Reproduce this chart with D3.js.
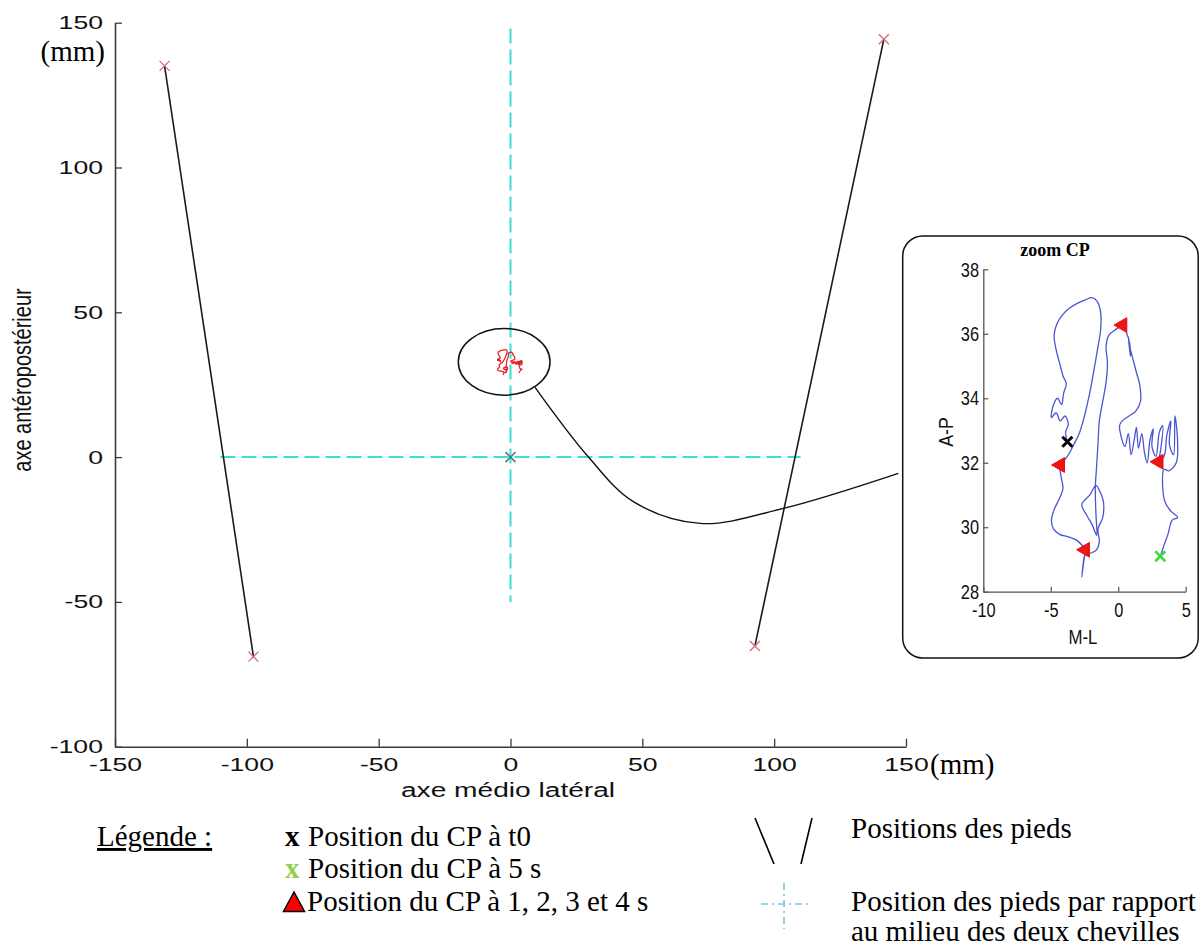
<!DOCTYPE html>
<html><head><meta charset="utf-8">
<script src="https://cdn.jsdelivr.net/npm/d3@7"></script>
<style>body{margin:0;background:#fff}svg{display:block}</style>
</head><body>
<svg id="c" width="1201" height="949"></svg>
<script>
// ---------- data ----------
const mainXTicks = [-150, -100, -50, 0, 50, 100, 150];
const mainYTicks = [-100, -50, 0, 50, 100, 150];
const insetXTicks = [-10, -5, 0, 5];
const insetYTicks = [28, 30, 32, 34, 36, 38];

// feet (medio-lateral, antero-posterior), mm
const leftFootML = [-131.2, -97.5];
const leftFootAP = [135.1, -68.9];
const rightFootML = [141.6, 92.7];
const rightFootAP = [144.3, -65.2];

// reference cross (middle of the two ankles)
const crossHML = [-110, 110];
const crossVAP = [-50, 148];

// CP trajectory (mm)
const cpML = [
-3.77,-3.9,-3.7,-3.95,-4.3,-4.6,-4.95,-4.8,-4.5,-4.2,-4.05,-3.85,-4.1,
-4.35,-4.6,-4.75,-4.55,-4.1,-3.6,-3.0,-2.45,-1.95,-1.55,-1.3,-1.3,
-1.5,-1.75,-2.0,-2.3,-2.6,-2.9,-3.25,-3.55,-3.85,-4.05,-4.3,
-4.25,-4.1,-4.4,-4.75,-4.95,-4.8,-4.35,-3.7,-3.1,-2.7,-2.45,
-2.55,-2.7,-2.6,-2.45,-2.0,-1.6,-1.4,-1.5,-1.15,-1.1,-1.35,-1.65,-2.1,-2.7,-2.3,-1.9,-1.6,
-1.65,-1.7,-1.6,-1.5,-1.4,-1.15,-0.9,-0.8,-0.9,-0.7,-0.3,0.05,0.32,
0.6,0.85,0.9,0.75,0.85,1.1,1.35,1.6,1.65,1.3,0.8,0.3,0.1,
0.5,0.75,0.95,1.2,1.35,1.5,1.75,1.95,2.15,2.35,2.6,2.5,2.8,3.05,3.3,3.15,3.0,
3.4,3.6,3.9,3.8,4.1,4.2,4.4,4.3,3.75,3.4,
3.3,3.5,3.9,4.4,4.0,3.7,3.4,3.12];
const cpAP = [
32.65,32.95,33.2,33.45,33.3,33.55,33.4,33.8,34.0,33.8,34.15,34.45,34.7,
35.1,35.5,35.95,36.3,36.6,36.8,36.95,37.05,37.12,37.0,36.65,36.15,
35.6,35.0,34.4,33.8,33.3,32.9,32.6,32.35,32.15,32.05,31.93,
31.6,31.2,30.85,30.55,30.2,29.95,29.78,29.7,29.6,29.45,29.3,
28.95,28.45,28.85,29.15,29.2,29.3,29.55,29.95,30.3,30.8,31.1,31.3,31.0,30.7,30.35,30.05,29.75,
30.4,31.2,31.9,32.6,33.3,33.9,34.5,35.1,35.6,35.95,36.1,36.2,36.27,
36.05,35.7,35.3,35.9,35.6,35.2,34.8,34.4,33.9,33.6,33.45,33.3,33.15,
32.5,32.9,32.25,32.75,33.1,32.45,32.9,32.3,32.0,32.7,33.05,32.5,32.2,32.95,33.15,32.4,32.03,
32.2,32.85,33.3,32.55,32.25,33.45,32.65,32.0,31.75,31.8,
31.2,30.75,30.5,30.3,30.22,29.8,29.45,29.1];

const cpT0 = [-3.77, 32.65];          // CP at t0
const cpT5 = [3.12, 29.1];            // CP at 5 s
const secML = [-4.3, -2.45, 0.32, 3.0];   // CP at 1,2,3,4 s
const secAP = [31.93, 29.3, 36.27, 32.03];

// zoom annotation (main-plot units)
const ringCenter = [-2.4, 32.9];
const ringRadii = [17.4, 11.5];
const connectorML = [9.3, 29.5, 46.6, 71.9, 103.5, 147.1];
const connectorAP = [24.1, 0.1, -15.4, -22.9, -17.7, -5.6];

// ---------- drawing ----------
const svg = d3.select('#c');
const SANS = "'Liberation Sans', Arial, sans-serif";
const SERIF = "'Liberation Serif', 'Times New Roman', serif";
const fmt = d => String(d);

const x = d3.scaleLinear().domain([-150, 150]).range([115, 906]);
const y = d3.scaleLinear().domain([-100, 150]).range([746.7, 22.7]);

function crossPath(s) { return `M${-s},${-s}L${s},${s}M${-s},${s}L${s},${-s}`; }

// reference cross (cyan dashed)
svg.append('line')
  .attr('x1', x(crossHML[0])).attr('x2', x(crossHML[1]))
  .attr('y1', y(0)).attr('y2', y(0))
  .attr('stroke', '#40dcd6').attr('stroke-width', 2).attr('stroke-dasharray', '15,6');
svg.append('line')
  .attr('x1', x(0)).attr('x2', x(0))
  .attr('y1', y(crossVAP[1])).attr('y2', y(crossVAP[0]))
  .attr('stroke', '#40dcd6').attr('stroke-width', 2).attr('stroke-dasharray', '15,6');

// feet
const feet = [
  {ml: leftFootML, ap: leftFootAP},
  {ml: rightFootML, ap: rightFootAP}
];
const footLine = d3.line().x(d => x(d[0])).y(d => y(d[1]));
feet.forEach(f => {
  const pts = f.ml.map((v, i) => [v, f.ap[i]]);
  svg.append('path').attr('d', footLine(pts))
    .attr('fill', 'none').attr('stroke', '#1a1a1a').attr('stroke-width', 1.6);
  svg.selectAll(null).data(pts).enter().append('path')
    .attr('d', crossPath(5))
    .attr('transform', d => `translate(${x(d[0])},${y(d[1])})`)
    .attr('stroke', '#d8687a').attr('stroke-width', 1.3).attr('fill', 'none');
});

// centre marker
svg.append('path').attr('d', crossPath(5))
  .attr('transform', `translate(${x(0)},${y(0)})`)
  .attr('stroke', '#4f7f86').attr('stroke-width', 1.6).attr('fill', 'none');

// CP trace in main plot (red)
const cpPts = cpML.map((v, i) => [v, cpAP[i]]);
svg.append('path')
  .attr('d', d3.line().x(d => x(d[0])).y(d => y(d[1])).curve(d3.curveCatmullRom)(cpPts))
  .attr('fill', 'none').attr('stroke', '#e41d22').attr('stroke-width', 1.2);

// ring + connector
svg.append('ellipse')
  .attr('cx', x(ringCenter[0])).attr('cy', y(ringCenter[1]))
  .attr('rx', x(ringRadii[0]) - x(0)).attr('ry', y(0) - y(ringRadii[1]))
  .attr('fill', 'none').attr('stroke', '#111').attr('stroke-width', 1.5);
const connPts = connectorML.map((v, i) => [v, connectorAP[i]]);
svg.append('path')
  .attr('d', d3.line().x(d => x(d[0])).y(d => y(d[1])).curve(d3.curveCatmullRom)(connPts))
  .attr('fill', 'none').attr('stroke', '#111').attr('stroke-width', 1.4);

// main axes
const axisColor = '#3a3a3a';
const gx = svg.append('g').attr('transform', `translate(0,${y(-100)})`)
  .call(d3.axisBottom(x).tickValues(mainXTicks).tickFormat(fmt).tickSizeInner(-8).tickSizeOuter(0).tickPadding(11));
const gy = svg.append('g').attr('transform', `translate(${x(-150)},0)`)
  .call(d3.axisLeft(y).tickValues(mainYTicks).tickFormat(fmt).tickSizeInner(-7).tickSizeOuter(0).tickPadding(8.6));
[gx, gy].forEach(g => {
  g.select('.domain').attr('stroke', axisColor).attr('stroke-width', 1.6);
  g.selectAll('.tick line').attr('stroke', axisColor).attr('stroke-width', 1.3);
  g.selectAll('text').attr('font-family', SANS).attr('font-size', 19).attr('fill', '#111')
    .attr('transform', 'scale(1.4,1)');
});

// main axis labels
svg.append('text').text('axe médio latéral')
  .attr('transform', `translate(508,797) scale(1.34,1)`)
  .attr('text-anchor', 'middle').attr('font-family', SANS).attr('font-size', 21).attr('fill', '#111');
svg.append('text').text('axe antéropostérieur')
  .attr('transform', `translate(31,380) rotate(-90) scale(1,1.3)`)
  .attr('text-anchor', 'middle').attr('font-family', SANS).attr('font-size', 20).attr('fill', '#111');
svg.append('text').text('(mm)')
  .attr('x', 105).attr('y', 61).attr('text-anchor', 'end')
  .attr('font-family', SERIF).attr('font-size', 29).attr('fill', '#000');
svg.append('text').text('(mm)')
  .attr('x', 930).attr('y', 774)
  .attr('font-family', SERIF).attr('font-size', 29).attr('fill', '#000');

// ---------- inset ----------
svg.append('rect')
  .attr('x', 902.7).attr('y', 236).attr('width', 295.5).attr('height', 422)
  .attr('rx', 20).attr('ry', 20)
  .attr('fill', '#fff').attr('stroke', '#111').attr('stroke-width', 1.5);

const ix = d3.scaleLinear().domain([-10, 5]).range([983.3, 1185.7]);
const iy = d3.scaleLinear().domain([28, 38]).range([591.7, 269.3]);

svg.append('text').text('zoom CP')
  .attr('x', 1055).attr('y', 256).attr('text-anchor', 'middle')
  .attr('font-family', SERIF).attr('font-weight', 'bold').attr('font-size', 18).attr('fill', '#000');

svg.append('path')
  .attr('d', d3.line().x(d => ix(d[0])).y(d => iy(d[1])).curve(d3.curveCatmullRom)(cpPts))
  .attr('fill', 'none').attr('stroke', '#4a55d2').attr('stroke-width', 1.3);

const igx = svg.append('g').attr('transform', `translate(0,${iy(28)})`)
  .call(d3.axisBottom(ix).tickValues(insetXTicks).tickFormat(fmt).tickSizeInner(-5).tickSizeOuter(0).tickPadding(10));
const igy = svg.append('g').attr('transform', `translate(${ix(-10)},0)`)
  .call(d3.axisLeft(iy).tickValues(insetYTicks).tickFormat(fmt).tickSizeInner(-5).tickSizeOuter(0).tickPadding(5.5));
[igx, igy].forEach(g => {
  g.select('.domain').attr('stroke', '#555').attr('stroke-width', 1.3);
  g.selectAll('.tick line').attr('stroke', '#555').attr('stroke-width', 1.2);
  g.selectAll('text').attr('font-family', SANS).attr('font-size', 21).attr('fill', '#111')
    .attr('transform', 'scale(0.78,1)');
});

svg.append('text').text('M-L')
  .attr('transform', `translate(1083,644) scale(0.8,1)`)
  .attr('text-anchor', 'middle').attr('font-family', SANS).attr('font-size', 21).attr('fill', '#111');
svg.append('text').text('A-P')
  .attr('transform', `translate(953,432) rotate(-90) scale(0.85,1)`)
  .attr('text-anchor', 'middle').attr('font-family', SANS).attr('font-size', 21).attr('fill', '#111');

// inset markers
const secPts = secML.map((v, i) => [v, secAP[i]]);
svg.selectAll(null).data(secPts).enter().append('path')
  .attr('d', d3.symbol(d3.symbolTriangle).size(95)())
  .attr('transform', d => `translate(${ix(d[0])},${iy(d[1])}) rotate(-90)`)
  .attr('fill', '#ee1515').attr('stroke', '#e01010').attr('stroke-width', 1);
svg.append('path').attr('d', crossPath(5))
  .attr('transform', `translate(${ix(cpT0[0])},${iy(cpT0[1])})`)
  .attr('stroke', '#000').attr('stroke-width', 3).attr('fill', 'none');
svg.append('path').attr('d', crossPath(5))
  .attr('transform', `translate(${ix(cpT5[0])},${iy(cpT5[1])})`)
  .attr('stroke', '#3ddc3d').attr('stroke-width', 2.6).attr('fill', 'none');

// ---------- legend ----------
const lg = svg.append('g').attr('font-family', SERIF).attr('font-size', 29).attr('fill', '#000');
lg.append('text').text('Légende :').attr('x', 97).attr('y', 846)
  .style('text-decoration', 'underline');

const row1 = lg.append('text').attr('x', 285).attr('y', 846);
row1.append('tspan').attr('font-weight', 'bold').text('x');
row1.append('tspan').attr('x', 308).text('Position du CP à t0');
const row2 = lg.append('text').attr('x', 285).attr('y', 878);
row2.append('tspan').attr('font-weight', 'bold').attr('fill', '#92d050').text('x');
row2.append('tspan').attr('x', 308).text('Position du CP à 5 s');
lg.append('path').attr('d', 'M-10.5,9.5L10.5,9.5L0,-10Z')
  .attr('transform', 'translate(294,902)')
  .attr('fill', '#ff0000').attr('stroke', '#000').attr('stroke-width', 1.5);
lg.append('text').attr('x', 307).attr('y', 911).text('Position du CP à 1, 2, 3 et 4 s');

// feet legend symbol
lg.append('line').attr('x1', 755).attr('y1', 818).attr('x2', 774).attr('y2', 864)
  .attr('stroke', '#000').attr('stroke-width', 1.6);
lg.append('line').attr('x1', 812).attr('y1', 818).attr('x2', 801).attr('y2', 864)
  .attr('stroke', '#000').attr('stroke-width', 1.6);
lg.append('text').attr('x', 851).attr('y', 838).text('Positions des pieds');

// cross legend symbol
lg.append('line').attr('x1', 784).attr('y1', 883).attr('x2', 784).attr('y2', 929)
  .attr('stroke', '#7cc4e4').attr('stroke-width', 1.6).attr('stroke-dasharray', '7,4,2,4');
lg.append('line').attr('x1', 761).attr('y1', 904).attr('x2', 811).attr('y2', 904)
  .attr('stroke', '#7cc4e4').attr('stroke-width', 1.6).attr('stroke-dasharray', '7,4,2,4');
lg.append('text').attr('x', 851).attr('y', 911).text('Position des pieds par rapport');
lg.append('text').attr('x', 851).attr('y', 941).text('au milieu des deux chevilles');
</script>
</body></html>
